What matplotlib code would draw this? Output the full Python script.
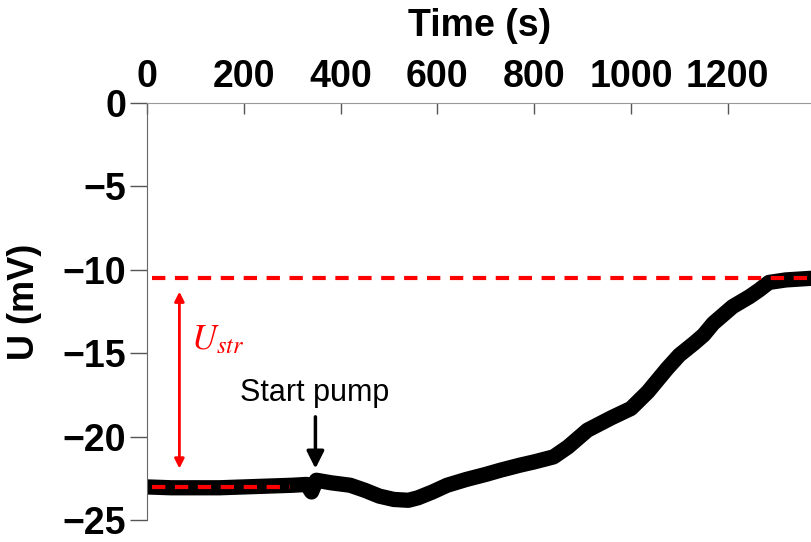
import numpy as np
import matplotlib.pyplot as plt

plt.rcParams['font.family'] = ['Liberation Sans', 'DejaVu Sans']
plt.rcParams['mathtext.fontset'] = 'stix'

# potential trace
time_s = [0, 50, 100, 150, 200, 250, 300, 330, 340, 350, 380, 420, 450, 480,
          510, 540, 560, 590, 620, 660, 700, 730, 770, 800, 840, 870, 910,
          960, 1000, 1035, 1075, 1100, 1130, 1150, 1170, 1210, 1245, 1265,
          1285, 1320, 1374]
u_mv = [-23.0, -23.05, -23.05, -23.05, -23.0, -22.95, -22.9, -22.85, -23.3,
        -22.6, -22.75, -22.9, -23.2, -23.55, -23.75, -23.8, -23.65, -23.3,
        -22.9, -22.55, -22.25, -22.0, -21.7, -21.5, -21.2, -20.6, -19.6,
        -18.85, -18.3, -17.3, -15.9, -15.1, -14.4, -13.9, -13.2, -12.2,
        -11.6, -11.2, -10.75, -10.6, -10.5]

u_start = -23.0
u_end = -10.5
pump_time = 348
xticks = [0, 200, 400, 600, 800, 1000, 1200]
yticks = [0, -5, -10, -15, -20, -25]

fig = plt.figure(figsize=(8.12, 5.42), dpi=100)
ax = fig.add_axes([0.181, 0.04, 0.819, 0.77])

ax.plot(time_s, u_mv, color='black', lw=11, solid_joinstyle='round',
        solid_capstyle='round', zorder=2)

ax.plot([10, 1374], [u_end, u_end], color='red', lw=3,
        linestyle=(0, (3.2, 2.3)), zorder=3)
ax.plot([10, 295], [u_start, u_start], color='red', lw=3,
        linestyle=(0, (3.2, 2.3)), zorder=3)

ax.annotate('', xy=(67, -11.3), xytext=(67, -21.9),
            arrowprops=dict(arrowstyle='<|-|>', color='red', lw=2,
                            mutation_scale=14, shrinkA=0, shrinkB=0))
ax.text(90, -14.2, r'$U_{str}$', color='red', fontsize=25, va='center')

ax.annotate('', xy=(pump_time, -21.9), xytext=(pump_time, -18.8),
            arrowprops=dict(arrowstyle='-|>', color='black', lw=2.5,
                            mutation_scale=26, shrinkA=0, shrinkB=0))
ax.text(pump_time - 2, -17.4, 'Start pump', fontsize=22, ha='center', va='center')

ax.set_xlim(0, 1374)
ax.set_ylim(-25, 0)
ax.xaxis.tick_top()
ax.xaxis.set_label_position('top')
ax.set_xticks(xticks)
ax.set_yticks(yticks)
ax.set_yticklabels(['0' if v == 0 else '\u2212' + str(-v) for v in yticks])

ax.tick_params(axis='x', direction='in', length=8, width=1, color='#555555',
               pad=6, labelsize=27)
ax.tick_params(axis='y', direction='out', length=12, width=1, color='#555555',
               pad=3, labelsize=27)
for lab in ax.get_xticklabels() + ax.get_yticklabels():
    lab.set_fontweight('bold')

ax.set_xlabel('Time (s)', fontsize=27, fontweight='bold', labelpad=16)
ax.set_ylabel('U (mV)', fontsize=26, fontweight='bold')
ax.yaxis.set_label_coords(-0.158, 0.523)

for side in ['right', 'bottom']:
    ax.spines[side].set_visible(False)
ax.spines['left'].set_color('#666666')
ax.spines['top'].set_color('#999999')

fig.savefig('out.png', dpi=100)
